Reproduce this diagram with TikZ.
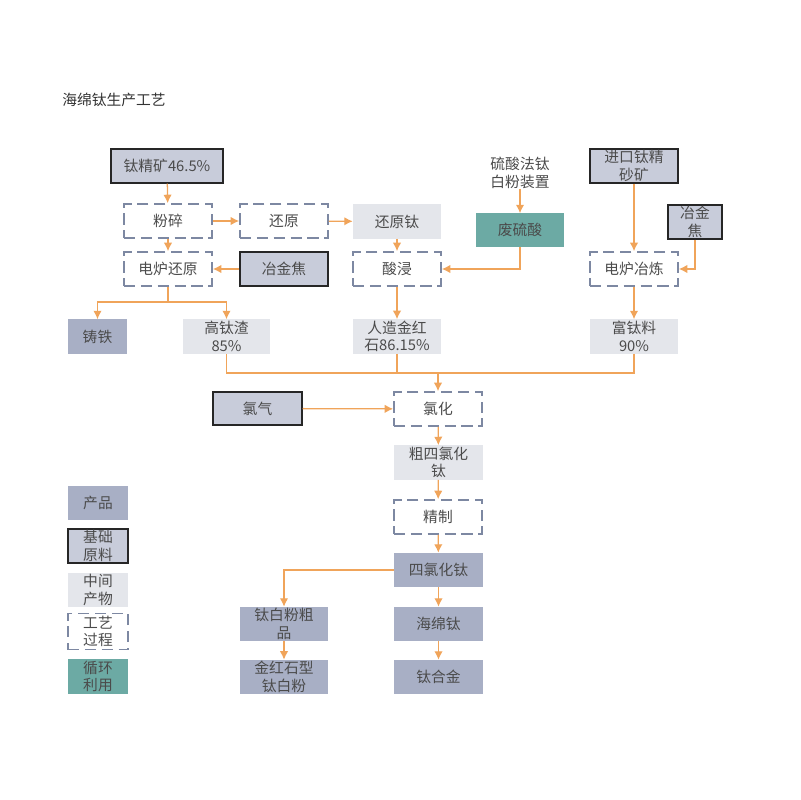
\documentclass[tikz,border=0pt]{standalone}
\usepackage{fontspec}
\setmainfont{Noto Sans CJK SC}
\usepackage{xcolor}
\usetikzlibrary{positioning, arrows.meta}

\definecolor{prodfill}{RGB}{168,175,197}
\definecolor{basefill}{RGB}{200,204,218}
\definecolor{midfill}{RGB}{228,230,235}
\definecolor{recfill}{RGB}{108,170,164}
\definecolor{dashcol}{RGB}{125,136,162}
\definecolor{flow}{RGB}{240,164,90}
\definecolor{txt}{RGB}{75,75,75}

\begin{document}
\begin{tikzpicture}[
    x=0.025cm, y=-0.025cm,
    font=\fontsize{10.5}{12.5}\selectfont,
    box/.style={
        minimum width=2.2cm, minimum height=0.85cm, align=center,
        inner sep=1pt, text=txt,
    },
    prod/.style={box, fill=prodfill},
    base/.style={box, fill=basefill, draw=black!85, line width=1pt},
    mid/.style={box, fill=midfill},
    proc/.style={box, draw=dashcol, line width=1.2pt, dash pattern=on 8pt off 4pt},
    rec/.style={box, fill=recfill},
    arrow/.style={-{Latex[length=6pt,width=6pt]}, draw=flow, line width=0.9pt},
    line/.style={draw=flow, line width=0.9pt},
]
\useasboundingbox (0,0) rectangle (800,800);

% ── Title ────────────────────────────────────────────────────────────
\node[anchor=west, inner sep=0pt, text=black!80] (title) at (62,100) {海绵钛生产工艺};

% ── Left column: ilmenite route ──────────────────────────────────────
\node[base, minimum width=2.8cm] (ore) at (167,166) {钛精矿46.5\%};
\node[proc] (crush)  at (168,221) {粉碎};
\node[proc] (reduce) at (284,221) {还原};
\node[mid]  (redti)  at (397,221.5) {还原钛};
\node[proc] (eaf)    at (168,269) {电炉还原};
\node[base] (coke1)  at (284,269) {冶金焦};
\node[proc] (leach)  at (397,269) {酸浸};

\node[prod, minimum width=1.475cm] (iron) at (97.5,336.5) {铸铁};
\node[mid, minimum width=2.175cm]  (slag) at (226.5,336.5) {高钛渣\\85\%};
\node[mid] (rutile) at (397,336.5) {人造金红\\石86.15\%};

% ── Waste acid from the pigment plant ────────────────────────────────
\node[text=txt, align=center, inner sep=0pt] (plant) at (520,173) {硫酸法钛\\白粉装置};
\node[rec, minimum height=0.825cm] (acid) at (520,230) {废硫酸};

% ── Right column: imported ore route ─────────────────────────────────
\node[base] (imp) at (634,166) {进口钛精\\砂矿};
\node[base, minimum width=1.35cm, text width=1.1cm, inner sep=0pt] (coke2) at (695,222) {冶金\\焦};
\node[proc] (smelt) at (634,269) {电炉冶炼};
\node[mid]  (rich)  at (634,336.5) {富钛料\\90\%};

% ── Chlorination chain ───────────────────────────────────────────────
\node[base, minimum width=2.225cm, minimum height=0.825cm] (cl2) at (257.5,408.5) {氯气};
\node[proc]  (chlor)   at (438,409)   {氯化};
\node[mid]   (crude)   at (438.5,462.5) {粗四氯化\\钛};
\node[proc]  (refine)  at (438,517)   {精制};
\node[prod]  (ticl4)   at (438.5,570) {四氯化钛};
\node[prod]  (sponge)  at (438.5,624) {海绵钛};
\node[prod]  (alloy)   at (438.5,677) {钛合金};
\node[prod]  (rawpig)  at (284,624)   {钛白粉粗\\品};
\node[prod]  (pigment) at (284,677)   {金红石型\\钛白粉};

% ── Legend ───────────────────────────────────────────────────────────
\node[prod, minimum width=1.5cm] (lgprod) at (98,502.5) {产品};
\node[base, minimum width=1.5cm] (lgbase) at (98,546)   {基础\\原料};
\node[mid,  minimum width=1.5cm] (lgmid)  at (98,590)   {中间\\产物};
\node[proc, minimum width=1.5cm, minimum height=0.9cm] (lgproc) at (98,631.5) {工艺\\过程};
\node[rec,  minimum width=1.5cm] (lgrec)  at (98,676.5) {循环\\利用};

% ── Junctions ────────────────────────────────────────────────────────
\coordinate (split) at (168,302);
\coordinate (bus)   at (438,373);

% ── Edges ────────────────────────────────────────────────────────────
\draw[arrow] (ore) -- (crush);
\draw[arrow] (crush) -- (reduce);
\draw[arrow] (reduce) -- (redti);
\draw[arrow] (crush) -- (eaf);
\draw[arrow] (coke1) -- (eaf);
\draw[arrow] (redti) -- (leach);
\draw[arrow] (plant) -- (acid);
\draw[arrow] (acid.south) |- (leach.east);
\draw[arrow] (leach) -- (rutile);

% electric furnace -> pig iron + slag
\draw[line] (eaf.south) -- (split);
\draw[arrow] (split) -| (iron.north);
\draw[arrow] (split) -| (slag.north);

% imported ore -> smelting
\draw[arrow] (imp) -- (smelt);
\draw[arrow] (coke2.south) |- (smelt.east);
\draw[arrow] (smelt) -- (rich);

% three feeds -> chlorination
\draw[line] (slag.south) |- (bus);
\draw[line] (rich.south) |- (bus);
\draw[line] (rutile.south) -- (rutile.south |- bus);
\draw[arrow] (bus) -- (chlor.north);
\draw[arrow] (cl2) -- (chlor);

\draw[arrow] (chlor) -- (crude);
\draw[arrow] (crude) -- (refine);
\draw[arrow] (refine) -- (ticl4);
\draw[arrow] (ticl4) -- (sponge);
\draw[arrow] (sponge) -- (alloy);
\draw[arrow] (ticl4.west) -| (rawpig.north);
\draw[arrow] (rawpig) -- (pigment);

\end{tikzpicture}
\end{document}
